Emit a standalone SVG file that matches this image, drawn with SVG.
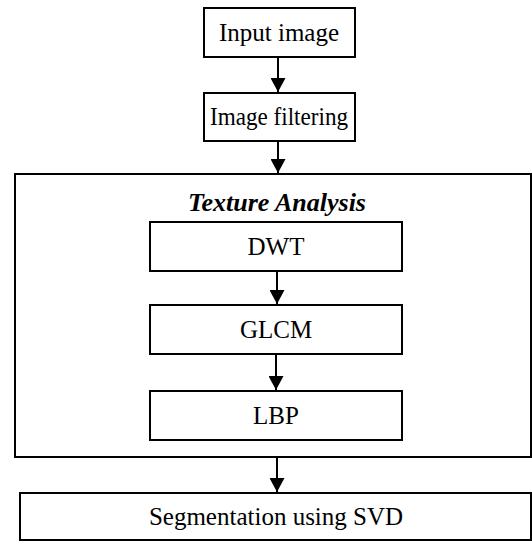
<svg xmlns="http://www.w3.org/2000/svg" width="532" height="542" viewBox="0 0 532 542">
  <style>
    .box { fill: #ffffff; stroke: #000000; stroke-width: 2; }
    .lbl { font-family: "Liberation Serif", "Times New Roman", serif; font-size: 25px; fill: #000000; text-anchor: middle; }
    .title { font-weight: bold; font-style: italic; font-size: 26px; }
    .conn { stroke: #000000; stroke-width: 2; fill: none; marker-end: url(#head); }
  </style>
  <defs>
    <marker id="head" viewBox="0 0 14 15" refX="14" refY="7.5" markerWidth="14" markerHeight="15" markerUnits="userSpaceOnUse" orient="auto">
      <path d="M0,0 L14,7.5 L0,15 Z" fill="#000000"/>
    </marker>
  </defs>
  <rect width="532" height="542" fill="#ffffff"/>

  <g id="input-image">
    <rect class="box" x="204" y="8" width="151" height="49"/>
    <text class="lbl" x="279" y="41">Input image</text>
  </g>
  <g id="image-filtering">
    <rect class="box" x="204" y="93" width="151" height="48"/>
    <text class="lbl" x="279" y="125" textLength="138" lengthAdjust="spacingAndGlyphs">Image filtering</text>
  </g>
  <g id="texture-analysis">
    <rect class="box" x="15" y="174" width="516" height="283"/>
    <text class="lbl title" x="277" y="211">Texture Analysis</text>
  </g>
  <g id="dwt">
    <rect class="box" x="150" y="222" width="252" height="49"/>
    <text class="lbl" x="276" y="255">DWT</text>
  </g>
  <g id="glcm">
    <rect class="box" x="150" y="305" width="252" height="49"/>
    <text class="lbl" x="276" y="338">GLCM</text>
  </g>
  <g id="lbp">
    <rect class="box" x="150" y="391" width="252" height="49"/>
    <text class="lbl" x="276" y="424">LBP</text>
  </g>
  <g id="segmentation">
    <rect class="box" x="20" y="493" width="511" height="47"/>
    <text class="lbl" x="276" y="525">Segmentation using SVD</text>
  </g>

  <g id="connectors">
    <line class="conn" x1="278" y1="57" x2="278" y2="92"/>
    <line class="conn" x1="278" y1="141" x2="278" y2="173"/>
    <line class="conn" x1="277" y1="271" x2="277" y2="304"/>
    <line class="conn" x1="276" y1="354" x2="276" y2="390"/>
    <line class="conn" x1="277" y1="457" x2="277" y2="492"/>
  </g>
</svg>
